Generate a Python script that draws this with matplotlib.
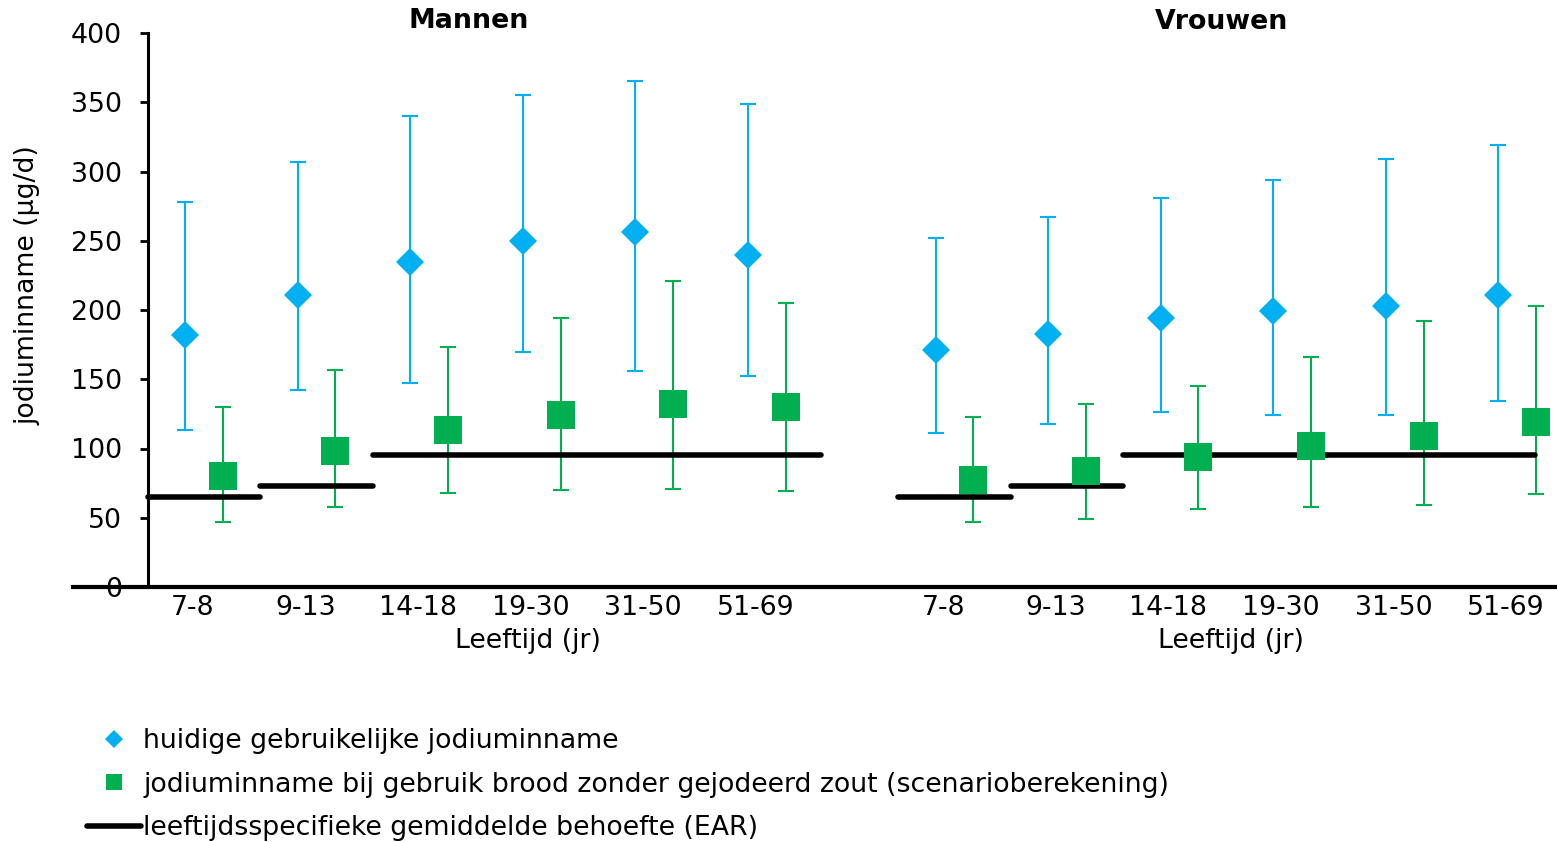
import numpy as np
import matplotlib
matplotlib.use('Agg')
import matplotlib.pyplot as plt

plt.rcParams['font.family'] = ['DejaVu Sans']

# ============================================================
# DATA
# ============================================================
age_groups = ['7-8', '9-13', '14-18', '19-30', '31-50', '51-69']

# huidige gebruikelijke jodiuminname (mediaan + spreiding)
men_cur = [182, 211, 235, 250, 256, 240]
men_cur_lo = [113, 142, 147, 170, 156, 152]
men_cur_hi = [278, 307, 340, 355, 365, 349]
women_cur = [171, 183, 194, 199, 203, 211]
women_cur_lo = [111, 118, 126, 124, 124, 134]
women_cur_hi = [252, 267, 281, 294, 309, 319]

# scenario: brood zonder gejodeerd zout
men_scen = [80, 98, 113, 124, 132, 130]
men_scen_lo = [47, 58, 68, 70, 71, 69]
men_scen_hi = [130, 157, 173, 194, 221, 205]
women_scen = [77, 84, 94, 102, 109, 119]
women_scen_lo = [47, 49, 56, 58, 59, 67]
women_scen_hi = [123, 132, 145, 166, 192, 203]

# EAR per leeftijdsgroep: (eerste groep, laatste groep, waarde)
ear_segments = [(0, 0, 65), (1, 1, 73), (2, 5, 95)]

blue = '#00B0F0'
green = '#00B050'
fs = 19.3

# ============================================================
# PLOT
# ============================================================
fig = plt.figure(figsize=(15.57, 8.42), dpi=100)
ax = fig.add_axes([73 / 1557, 1 - 587 / 842, 1 - 73 / 1557, (587 - 33) / 842])

n = len(age_groups)
x_men = np.arange(n)
x_women = np.arange(n) + 6.667
off = 0.167


def draw_group(x, cur, cur_lo, cur_hi, scen, scen_lo, scen_hi, ear_right, first):
    cur = np.array(cur)
    scen = np.array(scen)
    ax.errorbar(x - off, cur, yerr=[cur - np.array(cur_lo), np.array(cur_hi) - cur],
                fmt='none', ecolor=blue, elinewidth=1.5, capsize=6, capthick=1.5, zorder=3)
    ax.errorbar(x + off, scen, yerr=[scen - np.array(scen_lo), np.array(scen_hi) - scen],
                fmt='none', ecolor=green, elinewidth=1.5, capsize=6, capthick=1.5, zorder=3)
    for i0, i1, val in ear_segments:
        right = x[i1] + (ear_right if i1 == n - 1 else 0.5)
        ax.plot([x[i0] - 0.5, right], [val, val], color='black', lw=4,
                solid_capstyle='round', zorder=4,
                label='leeftijdsspecifieke gemiddelde behoefte (EAR)' if (first and i0 == 0) else None)
    ax.plot(x - off, cur, 'D', color=blue, ms=14.5, mew=0, zorder=5,
            label='huidige gebruikelijke jodiuminname' if first else None)
    ax.plot(x + off, scen, 's', color=green, ms=20, mew=0, zorder=5,
            label='jodiuminname bij gebruik brood zonder gejodeerd zout (scenarioberekening)' if first else None)


draw_group(x_men, men_cur, men_cur_lo, men_cur_hi, men_scen, men_scen_lo, men_scen_hi, 0.48, True)
draw_group(x_women, women_cur, women_cur_lo, women_cur_hi, women_scen, women_scen_lo, women_scen_hi, 0.155, False)

ax.set_xlim(-1.164, 12.02)
ax.set_ylim(0, 400)

for s in ['top', 'right']:
    ax.spines[s].set_visible(False)
ax.spines['left'].set_position(('data', -0.5))
ax.spines['left'].set_linewidth(2.2)
ax.spines['bottom'].set_linewidth(3)

ax.set_yticks(np.arange(0, 401, 50))
ax.tick_params(axis='y', direction='out', length=5.5, width=2, labelsize=fs, pad=13)
ax.set_xticks(np.concatenate([x_men, x_women]) - 0.1)
ax.set_xticklabels(age_groups + age_groups)
ax.tick_params(axis='x', length=0, labelsize=fs, pad=6)

ax.text(2.35, 409, 'Mannen', ha='center', va='center', fontsize=fs, fontweight='bold', clip_on=False)
ax.text(9.04, 408, 'Vrouwen', ha='center', va='center', fontsize=fs, fontweight='bold', clip_on=False)
ax.text(2.876, -39, 'Leeftijd (jr)', ha='center', va='center', fontsize=fs, clip_on=False)
ax.text(9.12, -39, 'Leeftijd (jr)', ha='center', va='center', fontsize=fs, clip_on=False)
fig.text(28 / 1557, 1 - 285 / 842, 'jodiuminname (µg/d)', rotation=90, ha='center', va='center', fontsize=fs)

h, l = ax.get_legend_handles_labels()
order = [l.index('huidige gebruikelijke jodiuminname'),
         l.index('jodiuminname bij gebruik brood zonder gejodeerd zout (scenarioberekening)'),
         l.index('leeftijdsspecifieke gemiddelde behoefte (EAR)')]
fig.legend([h[i] for i in order], [l[i] for i in order], loc='upper left',
           bbox_to_anchor=(87 / 1557, 1 - 728 / 842), frameon=False, fontsize=fs,
           handlelength=2.0, handletextpad=0.1, borderpad=0, borderaxespad=0,
           labelspacing=0.66, markerscale=0.6)

fig.savefig('out.png', dpi=100)
